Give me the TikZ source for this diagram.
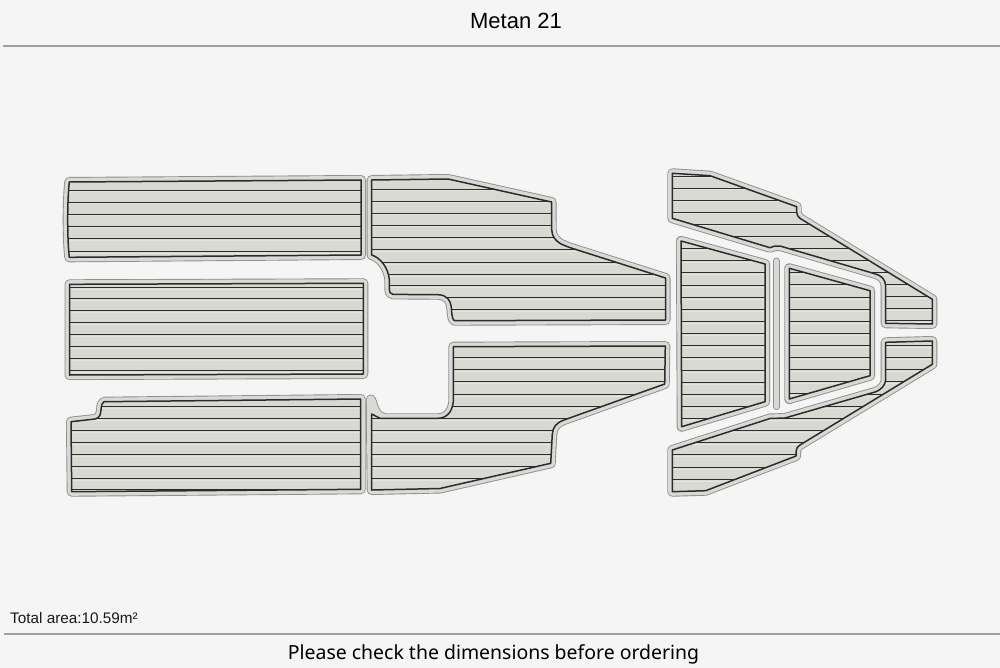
\documentclass[tikz,border=0pt]{standalone}
\usepackage{fontspec}
\setmainfont{Liberation Sans}
\newfontfamily\notefont{Noto Sans}
\definecolor{paper}{HTML}{F5F5F5}
\definecolor{deck}{HTML}{D8D9D3}
\definecolor{bandc}{HTML}{D9D9D5}
\definecolor{edgec}{HTML}{8E8E8E}
\definecolor{inkc}{HTML}{2C2C2C}
\definecolor{rulec}{HTML}{A0A0A0}
\tikzset{
  outerline/.style={draw=edgec,line width=10pt,line join=round,line cap=round},
  bandline/.style={draw=bandc,line width=8.2pt,line join=round,line cap=round},
  innerline/.style={draw=inkc,line width=1.5pt,line join=round},
  plank/.style={draw=inkc,line width=1.5pt},
  plankhi/.style={draw=white!30!deck,line width=0.8pt},
  rulel/.style={draw=rulec,line width=2pt}
}
% #1 stroke path, #2 inner path, #3 xmin, #4 xmax, #5 y list
\newcommand{\deckpanel}[5]{%
  \draw[outerline] #1;
  \draw[bandline] #1;
  \begin{scope}
    \clip #2;
    \fill[deck] (#3,100) rectangle (#4,550);
    \foreach \yy in {#5} {
      \pgfmathsetmacro{\yq}{floor(\yy)+0.5}
      \draw[plankhi] (#3,{\yq+1.4}) -- (#4,{\yq+1.4});
      \draw[plank] (#3,\yq) -- (#4,\yq);
    }
  \end{scope}
  \draw[innerline] #2;
}
\begin{document}
\begin{tikzpicture}[x=1pt,y=-1pt]
\useasboundingbox (0,0) rectangle (1000,668);
\fill[paper] (0,0) rectangle (1000,668);
\node[anchor=center,font=\fontsize{22}{26}\selectfont,text=black,inner sep=0pt] (title) at (516,21) {Metan 21};
\node[anchor=base west,font=\fontsize{15.3}{18}\selectfont,text=black!90,inner sep=0pt] (area) at (10,623) {Total area:10.59m²};
\node[anchor=base,font=\notefont\fontsize{19.45}{24}\selectfont,text=black,inner sep=0pt] (note) at (493.5,659.5) {Please check the dimensions before ordering};
\coordinate (tl) at (3,46.5); \coordinate (tr) at (1000,46.5);
\coordinate (bl) at (4,634.3); \coordinate (br) at (1000,634.3);
\draw[rulel] (tl) -- (tr);
\draw[rulel] (bl) -- (br);

% A top-left
\def\pth{(69.3,182) -- (361,180) -- (361,255) -- (69.3,257.3) .. controls (67.2,240) and (67.2,200) .. cycle}
\deckpanel{\pth}{\pth}{60}{365}{190.3,202.6,214.9,226.9,238.9,251}

% B middle-left
\def\pth{(69.5,284.3) -- (363.3,283.3) -- (363.3,374) -- (69.5,375) -- cycle}
\deckpanel{\pth}{\pth}{60}{365}{287.2,298.8,310.8,322.8,334.8,346.8,358.8,370.6}

% C bottom-left
\def\pth{(71.7,491.7) -- (71,421.7) -- (95,419) .. controls (100,418) and (100.5,414) .. (101,410) .. controls (101.5,405) and (102,402.5) .. (104,401.7) -- (360.7,399) -- (360.7,489.3) -- cycle}
\deckpanel{\pth}{\pth}{60}{365}{406.4,418.2,430,442.2,454.3,466.3,478.5,489.5}

% D top-middle
\def\pth{(371.7,180) -- (448,179) -- (551.5,202) -- (551.7,230) .. controls (552,237) and (556,241) .. (561,244) -- (569,247.3) -- (665.5,278) -- (665.5,320) -- (455,320.7) .. controls (452.5,320.7) and (452,316) .. (451.5,310) .. controls (451,300) and (447,295) .. (438,294.7) -- (393,294.4) .. controls (390,294.4) and (389.5,292) .. (389.3,288) -- (389.3,279) .. controls (388,268) and (381,258) .. (371.7,255) -- cycle}
\deckpanel{\pth}{\pth}{365}{670}{189.3,201.5,213.6,225.6,237.7,249.7,262,274,285.7,297.7,309.7}

% E bottom-middle
\def\pth{(453.3,346.7) -- (665.3,346) -- (664.7,384) -- (564,420) .. controls (556,423) and (553,427) .. (552.3,434) -- (550.7,463.3) -- (440,488.5) -- (371.7,490) -- (371.7,414) -- (380,418.3) -- (438,418.3) .. controls (447,418) and (452,412) .. (453.3,402) -- cycle}
\def\stk{(453.3,346.7) -- (665.3,346) -- (664.7,384) -- (564,420) .. controls (556,423) and (553,427) .. (552.3,434) -- (550.7,463.3) -- (440,488.5) -- (371.7,490) -- (370.8,399.5) .. controls (374,406) and (374,416) .. (385,418.3) -- (438,418.3) .. controls (447,418) and (452,412) .. (453.3,402) -- cycle}
\deckpanel{\stk}{\pth}{365}{670}{357.7,369.8,381.9,394,406,418.3,430.3,442.3,454.3,466.3,478.6}

% F top-right long
\def\pth{(672.3,173.3) -- (710,175.7) -- (796.7,206.7) -- (796.7,212) .. controls (797,216) and (799,218) .. (802.7,220) -- (932.3,299.3) -- (932.3,324) -- (885.7,323.3) -- (885.7,286) .. controls (885,279) and (882,276) .. (875,273.8) -- (780,246) -- (775,246) -- (770,247.7) -- (672.3,218.3) -- cycle}
\deckpanel{\pth}{\pth}{665}{940}{176.5,188,200,212.2,224.3,236.3,248.3,260,272.3,284.3,296.3,308.3,320.7}

% G centre-left
\def\pth{(681,241) -- (765,264) -- (765,401.7) -- (681.7,426.7) -- cycle}
\deckpanel{\pth}{\pth}{675}{770}{248.3,260.7,272.7,285,297,309,321.3,333.3,345.7,357.7,370,382,394,406,418.3}

% centre bar
\coordinate (bara) at (776.3,261); \coordinate (barb) at (776.3,406.5);
\draw[edgec,line width=7pt,line cap=round] (bara) -- (barb);
\draw[bandc,line width=5.2pt,line cap=round] (bara) -- (barb);

% H centre-right
\def\pth{(789.3,268.3) -- (870,290.7) -- (870,375.7) -- (789.3,399) -- cycle}
\deckpanel{\pth}{\pth}{785}{875}{272.3,284.7,297,309,321,333,345.3,357.3,369.7,381.7,393.7}

% I bottom-right long
\def\pth{(672.3,450) -- (770,418.5) -- (785,418) -- (875,392) .. controls (882,389.5) and (885,385) .. (885.7,380) -- (885.7,342.3) -- (932.3,341) -- (932.3,364.3) -- (800,445) .. controls (797,447) and (796,449) .. (796,452) -- (796,456) -- (705.7,490.7) -- (672.3,491.7) -- cycle}
\deckpanel{\pth}{\pth}{665}{940}{345,357.7,369.7,381.7,394,406,418.3,430.7,442.7,454.7,467,479}
\end{tikzpicture}
\end{document}
